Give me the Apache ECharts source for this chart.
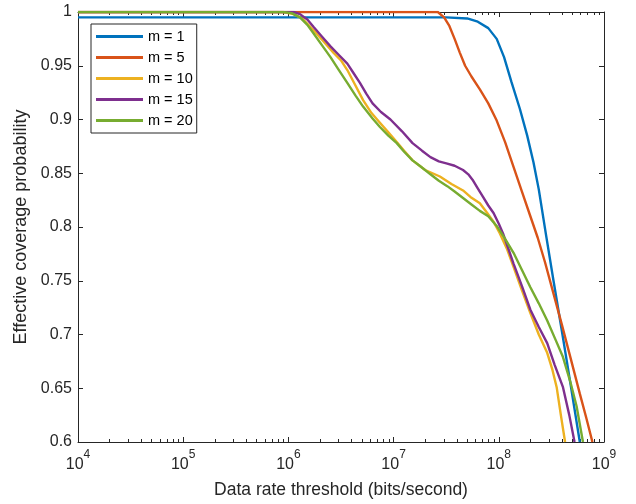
<!DOCTYPE html>
<html>
<head>
<meta charset="utf-8">
<title>Effective coverage probability</title>
<script src="https://cdn.jsdelivr.net/npm/echarts@6/dist/echarts.min.js"></script>
<style>
    html, body { margin: 0; padding: 0; background: #fff; }
    #chart { width: 636px; height: 504px; }
</style>
</head>
<body>
<div id="chart"></div>
<script>
    // rates as log10(bits/second)
    var logRateM1 = [4.0, 7.50, 7.70, 7.80, 7.90, 7.98, 8.05, 8.12, 8.20, 8.27, 8.33, 8.38, 8.45, 8.52, 8.60, 8.68, 8.77];
    var covM1     = [0.995, 0.995, 0.994, 0.991, 0.985, 0.975, 0.958, 0.935, 0.91, 0.885, 0.86, 0.835, 0.792, 0.75, 0.703, 0.655, 0.60];

    var logRateM5 = [4.0, 7.42, 7.48, 7.53, 7.58, 7.63, 7.68, 7.74, 7.82, 7.90, 7.98, 8.06, 8.14, 8.22, 8.30, 8.37, 8.44, 8.52, 8.60, 8.68, 8.77, 8.83, 8.89];
    var covM5     = [1.0, 1.0, 0.995, 0.987, 0.975, 0.962, 0.95, 0.94, 0.928, 0.915, 0.899, 0.879, 0.856, 0.833, 0.81, 0.79, 0.767, 0.738, 0.709, 0.679, 0.645, 0.623, 0.60];

    var logRateM10 = [4.0, 5.95, 6.05, 6.13, 6.24, 6.33, 6.43, 6.50, 6.56, 6.63, 6.71, 6.79, 6.87, 6.95, 7.03, 7.10, 7.18, 7.30, 7.44, 7.55, 7.66, 7.73, 7.82, 7.89, 7.95, 8.01, 8.08, 8.14, 8.22, 8.30, 8.38, 8.46, 8.51, 8.55, 8.59, 8.63];
    var covM10     = [1.0, 1.0, 0.998, 0.994, 0.983, 0.973, 0.962, 0.955, 0.946, 0.933, 0.918, 0.906, 0.897, 0.888, 0.879, 0.871, 0.862, 0.853, 0.847, 0.840, 0.834, 0.828, 0.822, 0.813, 0.805, 0.794, 0.779, 0.763, 0.741, 0.72, 0.70, 0.683, 0.667, 0.651, 0.625, 0.60];

    var logRateM15 = [4.0, 6.05, 6.11, 6.18, 6.24, 6.32, 6.40, 6.48, 6.56, 6.62, 6.68, 6.74, 6.80, 6.88, 6.97, 7.08, 7.18, 7.27, 7.35, 7.43, 7.51, 7.58, 7.66, 7.71, 7.75, 7.80, 7.85, 7.90, 7.95, 8.00, 8.04, 8.09, 8.14, 8.22, 8.30, 8.38, 8.46, 8.53, 8.61, 8.67, 8.72];
    var covM15     = [1.0, 1.0, 0.998, 0.993, 0.986, 0.977, 0.968, 0.960, 0.952, 0.943, 0.934, 0.924, 0.915, 0.907, 0.9, 0.889, 0.878, 0.871, 0.865, 0.861, 0.859, 0.857, 0.853, 0.849, 0.844, 0.836, 0.828, 0.82, 0.813, 0.803, 0.794, 0.78, 0.766, 0.745, 0.723, 0.707, 0.692, 0.672, 0.651, 0.625, 0.60];

    var logRateM20 = [4.0, 5.95, 6.03, 6.11, 6.18, 6.24, 6.32, 6.40, 6.48, 6.56, 6.64, 6.71, 6.80, 6.87, 6.95, 7.03, 7.10, 7.18, 7.26, 7.35, 7.43, 7.51, 7.58, 7.66, 7.74, 7.82, 7.90, 7.98, 8.06, 8.14, 8.22, 8.30, 8.38, 8.46, 8.54, 8.61, 8.68, 8.74, 8.80];
    var covM20     = [1.0, 1.0, 0.999, 0.995, 0.988, 0.98, 0.969, 0.958, 0.946, 0.934, 0.922, 0.912, 0.901, 0.893, 0.885, 0.878, 0.870, 0.862, 0.856, 0.849, 0.843, 0.838, 0.833, 0.827, 0.821, 0.815, 0.81, 0.801, 0.789, 0.776, 0.76, 0.744, 0.729, 0.713, 0.695, 0.679, 0.656, 0.633, 0.60];

    var seriesNames = ['m = 1', 'm = 5', 'm = 10', 'm = 15', 'm = 20'];
    var seriesColors = ['#0072BD', '#D95319', '#EDB120', '#7E2F8E', '#77AC30'];
    var xExpTicks = [4, 5, 6, 7, 8, 9];

    var axisColor = '#262626';
    var font = 'Liberation Sans, Arial, sans-serif';

    function toPairs(logX, ys) {
        return logX.map(function (e, i) { return [Math.pow(10, e), ys[i]]; });
    }

    // minor ticks of a log axis: 2..9 inside each decade (in log10 units)
    var minorTicks = [];
    for (var e = xExpTicks[0]; e < xExpTicks[xExpTicks.length - 1]; e++) {
        for (var k = 2; k <= 9; k++) minorTicks.push(Math.log10(k) + e);
    }

    var chart = echarts.init(document.getElementById('chart'));

    function tickAxis(position, values, len, showLine) {
        return {
            type: 'value', position: position, min: 4, max: 9,
            axisLine: { show: showLine, lineStyle: { color: axisColor, width: 1 } },
            axisTick: { show: true, inside: true, length: len, customValues: values, lineStyle: { color: axisColor } },
            axisLabel: { show: false },
            splitLine: { show: false },
            silent: true
        };
    }

    var data = [
        toPairs(logRateM1, covM1),
        toPairs(logRateM5, covM5),
        toPairs(logRateM10, covM10),
        toPairs(logRateM15, covM15),
        toPairs(logRateM20, covM20)
    ];

    var option = {
        animation: false,
        backgroundColor: '#fff',
        textStyle: { fontFamily: font },
        grid: { left: 78, right: 32, top: 12, bottom: 62 },
        legend: {
            orient: 'vertical',
            left: 91, top: 24,
            data: seriesNames,
            icon: 'rect',
            itemWidth: 47, itemHeight: 3,
            itemGap: 6,
            padding: [5, 4, 5, 5],
            borderColor: axisColor, borderWidth: 1,
            backgroundColor: '#fff',
            textStyle: { fontSize: 14.5, color: '#000', lineHeight: 15, fontFamily: font }
        },
        xAxis: [
            {
                type: 'log', logBase: 10, min: 1e4, max: 1e9, position: 'bottom',
                name: 'Data rate threshold (bits/second)',
                nameLocation: 'middle', nameGap: 39,
                nameTextStyle: { fontSize: 17.5, color: axisColor, fontFamily: font },
                axisLine: { lineStyle: { color: axisColor, width: 1 } },
                axisTick: { inside: true, length: 5, lineStyle: { color: axisColor } },
                minorTick: { show: false },
                splitLine: { show: false },
                axisLabel: {
                    margin: 7,
                    formatter: function (v) {
                        return '{b|10}{s|' + Math.round(Math.log10(v)) + '}';
                    },
                    rich: {
                        b: { fontSize: 16, color: axisColor, fontFamily: font, verticalAlign: 'bottom', lineHeight: 24 },
                        s: { fontSize: 12, color: axisColor, fontFamily: font, verticalAlign: 'top', lineHeight: 13 }
                    }
                }
            },
            tickAxis('bottom', minorTicks, 3, false),
            tickAxis('top', xExpTicks, 5, true),
            tickAxis('top', minorTicks, 3, false)
        ],
        yAxis: [
            {
                type: 'value', min: 0.6, max: 1, interval: 0.05, position: 'left',
                name: 'Effective coverage probability',
                nameLocation: 'middle', nameGap: 46,
                nameTextStyle: { fontSize: 18, color: axisColor, fontFamily: font },
                axisLine: { show: true, lineStyle: { color: axisColor, width: 1 } },
                axisTick: { show: true, inside: true, length: 5, lineStyle: { color: axisColor } },
                splitLine: { show: false },
                axisLabel: {
                    margin: 6, fontSize: 16, color: axisColor,
                    formatter: function (v) { return String(Math.round(v * 100) / 100); }
                }
            },
            {
                type: 'value', min: 0.6, max: 1, interval: 0.05, position: 'right',
                axisLine: { show: true, lineStyle: { color: axisColor, width: 1 } },
                axisTick: { show: true, inside: true, length: 5, lineStyle: { color: axisColor } },
                axisLabel: { show: false },
                splitLine: { show: false }
            }
        ],
        series: data.map(function (d, i) {
            return {
                name: seriesNames[i],
                type: 'line',
                xAxisIndex: 0, yAxisIndex: 0,
                data: d,
                showSymbol: false,
                smooth: false,
                color: seriesColors[i],
                lineStyle: { width: 2.4, color: seriesColors[i] },
                z: 2 + i
            };
        })
    };

    chart.setOption(option);
</script>
</body>
</html>
